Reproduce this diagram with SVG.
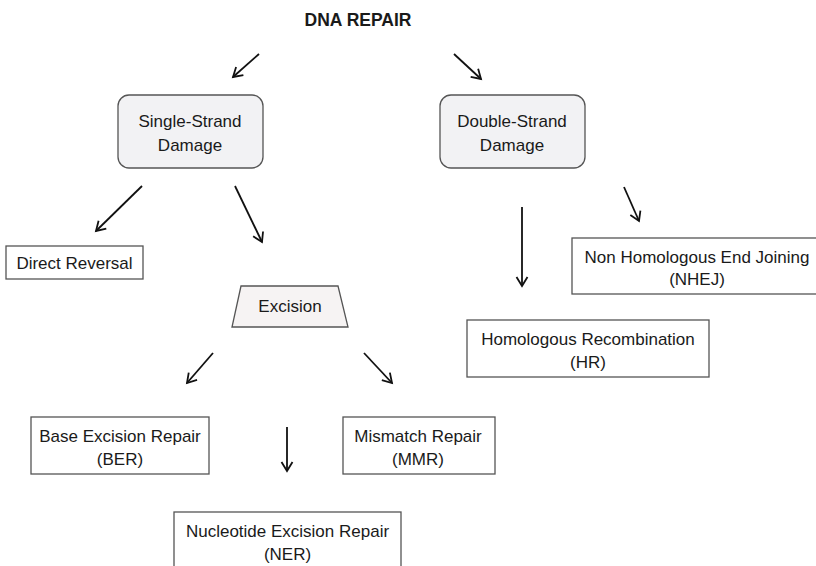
<svg xmlns="http://www.w3.org/2000/svg" width="816" height="566" viewBox="0 0 816 566">
<style>
text{font-family:"Liberation Sans",Arial,sans-serif;font-size:17px;fill:#1a1a1a;text-anchor:middle}
.title{font-weight:bold;font-size:17.5px}
.box{fill:#ffffff;stroke:#555;stroke-width:1.3}
.rbox{fill:#f2f2f4;stroke:#555;stroke-width:1.3}
.trap{fill:#f6f3f3;stroke:#555;stroke-width:1.3}
.arrow{stroke:#111;stroke-width:1.8;fill:none;marker-end:url(#arr)}
</style>
<defs>
<marker id="arr" markerUnits="userSpaceOnUse" markerWidth="14" markerHeight="14" refX="11" refY="7" orient="auto">
<path d="M2,1.5 L11,7 L2,12.5" fill="none" stroke="#111" stroke-width="1.8"/>
</marker>
</defs>
<rect width="816" height="566" fill="#ffffff"/>
<g id="title"><text class="title" x="358" y="26">DNA REPAIR</text></g>
<g id="connectors">
<line class="arrow" x1="259" y1="54" x2="233" y2="77"/>
<line class="arrow" x1="454" y1="54" x2="481" y2="79"/>
<line class="arrow" x1="142" y1="186" x2="96" y2="231"/>
<line class="arrow" x1="235" y1="186" x2="262" y2="242"/>
<line class="arrow" x1="522" y1="207" x2="522" y2="286"/>
<line class="arrow" x1="624" y1="187" x2="639" y2="221"/>
<line class="arrow" x1="213" y1="353" x2="187" y2="383"/>
<line class="arrow" x1="364" y1="353" x2="392" y2="383"/>
<line class="arrow" x1="287" y1="427" x2="287" y2="471"/>
</g>
<g id="single-strand">
<rect class="rbox" x="118" y="95" width="145" height="73" rx="11"/>
<text x="190" y="127">Single-Strand</text>
<text x="190" y="151">Damage</text>
</g>
<g id="double-strand">
<rect class="rbox" x="440" y="95" width="145" height="73" rx="11"/>
<text x="512" y="127">Double-Strand</text>
<text x="512" y="151">Damage</text>
</g>
<g id="direct-reversal">
<rect class="box" x="6" y="246" width="137" height="33"/>
<text x="74.5" y="269">Direct Reversal</text>
</g>
<g id="excision">
<polygon class="trap" points="241,286 338,286 348,327 232,327"/>
<text x="290" y="312">Excision</text>
</g>
<g id="nhej">
<rect class="box" x="572" y="238" width="250" height="56"/>
<text x="697" y="263">Non Homologous End Joining</text>
<text x="697" y="285">(NHEJ)</text>
</g>
<g id="hr">
<rect class="box" x="467" y="320" width="242" height="57"/>
<text x="588" y="345">Homologous Recombination</text>
<text x="588" y="368">(HR)</text>
</g>
<g id="ber">
<rect class="box" x="31" y="417" width="178" height="57"/>
<text x="120" y="442">Base Excision Repair</text>
<text x="120" y="465">(BER)</text>
</g>
<g id="mmr">
<rect class="box" x="343" y="417" width="152" height="57"/>
<text x="418" y="442">Mismatch Repair</text>
<text x="418" y="465">(MMR)</text>
</g>
<g id="ner">
<rect class="box" x="174" y="512" width="227" height="70"/>
<text x="287.5" y="537">Nucleotide Excision Repair</text>
<text x="287.5" y="560">(NER)</text>
</g>
</svg>
